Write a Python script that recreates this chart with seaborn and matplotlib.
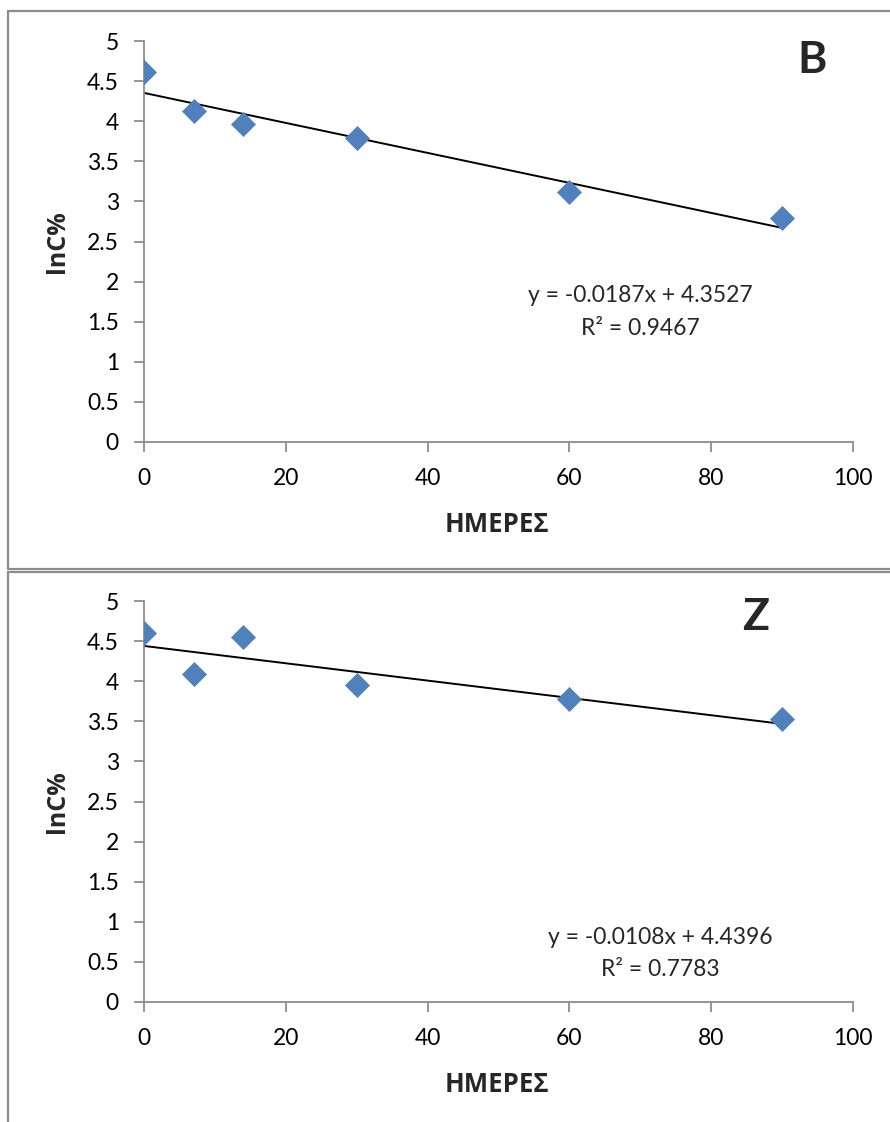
import numpy as np
import pandas as pd
import matplotlib
matplotlib.use("Agg")
import matplotlib.pyplot as plt
from matplotlib.lines import Line2D
import seaborn as sns

# ---- data ----
days = [0, 7, 14, 30, 60, 90]
lnc_B = [4.61, 4.13, 3.97, 3.79, 3.12, 2.79]
lnc_Z = [4.60, 4.09, 4.55, 3.95, 3.78, 3.53]
slope_B, intercept_B, r2_B = -0.0187, 4.3527, 0.9467
slope_Z, intercept_Z, r2_Z = -0.0108, 4.4396, 0.7783
panel_labels = ["B", "Z"]
x_ticks = [0, 20, 40, 60, 80, 100]
y_ticks = [0, 0.5, 1, 1.5, 2, 2.5, 3, 3.5, 4, 4.5, 5]
x_title = "ΗΜΕΡΕΣ"
y_title = "lnC%"

sns.set_theme(style="white")
plt.rcParams['font.family'] = ['Lato', 'Open Sans', 'DejaVu Sans']

W, H = 890, 1122
fig = plt.figure(figsize=(W / 100, H / 100), dpi=100)
fig.patch.set_facecolor("white")

def px_rect(left, top, right, bottom):
    return [left / W, 1 - bottom / H, (right - left) / W, (bottom - top) / H]

# panel borders
border_col = "#8c8c8c"
def fig_line(xs, ys):
    fig.add_artist(Line2D([x / W for x in xs], [1 - y / H for y in ys],
                          transform=fig.transFigure, color=border_col, lw=1.6))
fig_line([8, 892], [11, 11])
fig_line([8, 8], [11, 569])
fig_line([8, 892], [569, 569])
fig_line([8, 892], [572, 572])
fig_line([8, 8], [572, 1124])

panels = [
    dict(y=lnc_B, slope=slope_B, icpt=intercept_B, r2=r2_B, label=panel_labels[0],
         rect=px_rect(144, 41, 853, 442), eq_xy=(70.0, 1.83), r2_xy=(70.0, 1.42),
         lab_xy=(94.2, 4.76)),
    dict(y=lnc_Z, slope=slope_Z, icpt=intercept_Z, r2=r2_Z, label=panel_labels[1],
         rect=px_rect(144, 601, 853, 1002), eq_xy=(72.8, 0.81), r2_xy=(72.8, 0.40),
         lab_xy=(86.2, 4.8)),
]

grey = "#8c8c8c"
for p in panels:
    ax = fig.add_axes(p["rect"])
    df = pd.DataFrame({"x": days, "y": p["y"]})
    xs = np.array([min(days), max(days)])
    line_df = pd.DataFrame({"x": xs, "y": p["slope"] * xs + p["icpt"]})
    sns.lineplot(data=line_df, x="x", y="y", ax=ax, color="black", lw=1.4, zorder=2)
    sns.scatterplot(data=df, x="x", y="y", ax=ax, marker="D", s=150,
                    color="#4F81BD", edgecolor="#4F81BD", linewidth=0.5, zorder=3)
    ax.set_xlim(0, 100)
    ax.set_ylim(0, 5)
    ax.set_xticks(x_ticks)
    ax.set_xticklabels([str(t) for t in x_ticks])
    ax.set_yticks(y_ticks)
    ax.set_yticklabels([f"{t:g}" for t in y_ticks])
    for s in ["top", "right"]:
        ax.spines[s].set_visible(False)
    for s in ["left", "bottom"]:
        ax.spines[s].set_color(grey)
        ax.spines[s].set_linewidth(1.3)
    ax.tick_params(axis="both", direction="out", length=7, width=1.3, color=grey,
                   labelsize=16.5, labelcolor="black")
    ax.tick_params(axis="y", pad=11)
    ax.tick_params(axis="x", pad=12)
    ax.tick_params(left=True, bottom=True)
    ax.set_xlabel(x_title, fontsize=18.5, fontweight="bold",
                  family=['Open Sans', 'DejaVu Sans'])
    ax.set_ylabel(y_title, fontsize=18, fontweight="bold",
                  family=['Open Sans', 'DejaVu Sans'])
    ax.xaxis.set_label_coords(0.498, -0.172)
    ax.yaxis.set_label_coords(-0.104, 0.5)
    ax.text(*p["eq_xy"], f"y = {p['slope']:.4f}x + {p['icpt']:.4f}", ha="center",
            va="center", fontsize=16.5)
    ax.text(*p["r2_xy"], f"R² = {p['r2']:.4f}", ha="center", va="center", fontsize=16.5)
    ax.text(*p["lab_xy"], p["label"], ha="center", va="center", fontsize=32,
            fontweight="bold")
    ax.set_facecolor("white")

fig.savefig("out.png", dpi=100, facecolor="white")
